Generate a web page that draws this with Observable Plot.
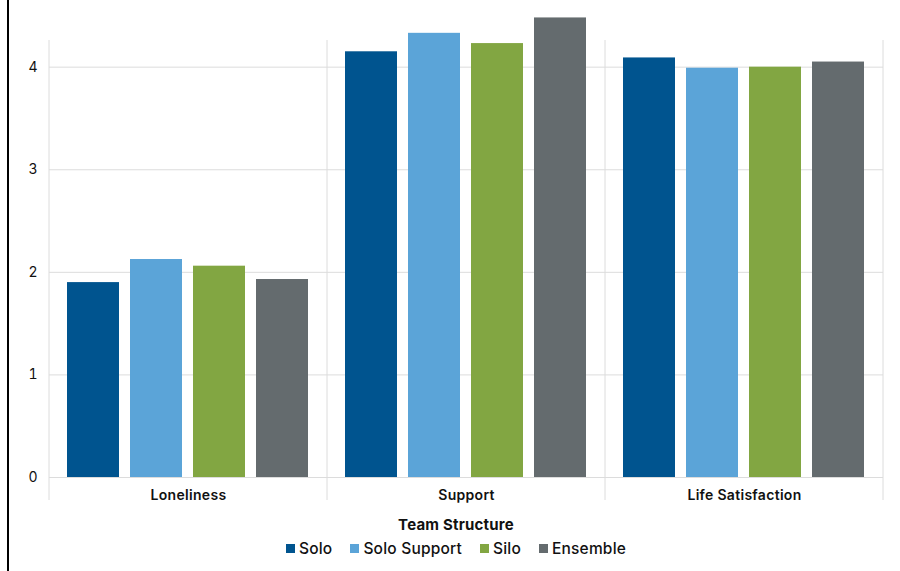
<!DOCTYPE html>
<html>
<head>
<meta charset="utf-8">
<script src="https://cdn.jsdelivr.net/npm/d3@7"></script>
<script src="https://cdn.jsdelivr.net/npm/@observablehq/plot@0.6"></script>
<style>
  html, body { margin: 0; padding: 0; background: #fff; }
  body { width: 900px; height: 571px; position: relative; overflow: hidden; font-family: Inter, "Noto Sans", sans-serif; }
  #border { position: absolute; left: 7px; top: 0; width: 2px; height: 571px; background: #000; }
  #chart { position: absolute; left: 0; top: 0; }
  #legend { position: absolute; left: 10px; width: 892px; top: 515px; text-align: center; color: #111; }
  #legend .title { font-weight: 700; font-size: 15px; line-height: 20px; letter-spacing: 0.2px; }
  #legend .items { margin-top: 3px; font-size: 15.5px; font-weight: 500; line-height: 20px; letter-spacing: 0.2px; }
  #legend .item { display: inline-flex; align-items: center; margin: 0 9px; }
  #legend .sw { display: inline-block; width: 9px; height: 9px; margin-right: 4px; }
</style>
</head>
<body>
<div id="border"></div>
<div id="chart"></div>
<div id="legend"></div>
<script>
const metrics = ["Loneliness", "Support", "Life Satisfaction"];
const series = ["Solo", "Solo Support", "Silo", "Ensemble"];
const colors = ["#00548F", "#5BA4D8", "#82A642", "#646B6E"];
const solo = [1.90, 4.15, 4.09];
const soloSupport = [2.125, 4.33, 3.99];
const silo = [2.06, 4.23, 4.00];
const ensemble = [1.93, 4.48, 4.05];
const yTicks = [0, 1, 2, 3, 4];
const legendTitle = "Team Structure";

const valuesBySeries = [solo, soloSupport, silo, ensemble];
const data = [];
series.forEach((s, i) => metrics.forEach((m, j) => data.push({metric: m, series: s, value: valuesBySeries[i][j]})));

const plot = Plot.plot({
  width: 900,
  height: 510,
  marginLeft: 49,
  marginRight: 17,
  marginTop: 40,
  marginBottom: 33,
  style: {fontFamily: "Inter, 'Noto Sans', sans-serif", color: "#111", background: "transparent"},
  fx: {domain: metrics, padding: 0, axis: "bottom", label: null, tickSize: 0, tickPadding: 13},
  x: {domain: series, paddingInner: 0.17, paddingOuter: 0.29, axis: null},
  y: {domain: [0, 4.26], ticks: yTicks, tickSize: 0, tickPadding: 12, label: null, tickFormat: d3.format("d")},
  color: {domain: series, range: colors},
  marks: [
    Plot.ruleY(yTicks, {stroke: "#dcdcdc", strokeWidth: 1}),
    Plot.barY(data, {fx: "metric", x: "series", y: "value", fill: "series"})
  ]
});

const svg = d3.select(plot);
svg.selectAll("[aria-label^='fx-axis'] text")
  .style("font-size", "14px").style("font-weight", "600").style("letter-spacing", "0.3px");
svg.selectAll("[aria-label^='y-axis'] text")
  .style("font-size", "14px").style("font-weight", "400");

// group separators from the fx scale
const fx = plot.scale("fx");
const ys = plot.scale("y");
const edges = metrics.map(m => fx.apply(m));
edges.push(fx.apply(metrics[metrics.length - 1]) + fx.bandwidth);
const yTop = ys.range[1];
const yBot = ys.range[0] + 23;
const sep = svg.append("g");
edges.forEach(x => sep.append("line")
  .attr("x1", x).attr("x2", x).attr("y1", yTop).attr("y2", yBot)
  .attr("stroke", "#dcdcdc").attr("stroke-width", 1));

document.getElementById("chart").appendChild(plot);

const legend = document.getElementById("legend");
const t = document.createElement("div");
t.className = "title"; t.textContent = legendTitle;
legend.appendChild(t);
const items = document.createElement("div");
items.className = "items";
series.forEach((s, i) => {
  const it = document.createElement("span");
  it.className = "item";
  const sw = document.createElement("span");
  sw.className = "sw"; sw.style.background = colors[i];
  it.appendChild(sw);
  it.appendChild(document.createTextNode(s));
  items.appendChild(it);
});
legend.appendChild(items);
</script>
</body>
</html>
